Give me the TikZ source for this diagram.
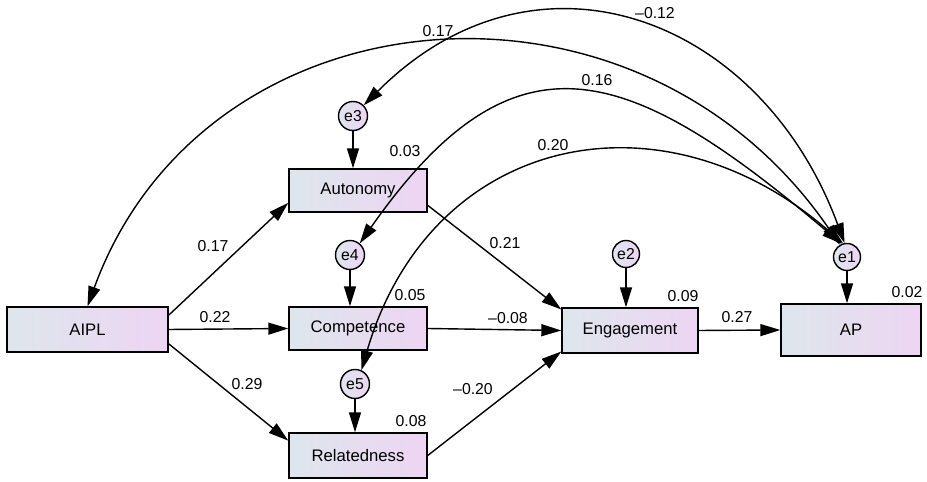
\documentclass[tikz,border=0pt]{standalone}
\usepackage{fontspec}
\setmainfont{Liberation Sans}
\usetikzlibrary{arrows.meta}
\definecolor{fillL}{RGB}{222,230,236}
\definecolor{fillR}{RGB}{237,213,243}
\begin{document}
\begin{tikzpicture}[x=0.02cm, y=-0.02cm,
    var/.style={draw, line width=0.8pt, left color=fillL, right color=fillR, inner sep=0pt,
        font=\fontsize{9.5}{11}\selectfont},
    err/.style={circle, draw, line width=0.8pt, left color=fillL, right color=fillR, inner sep=0pt,
        minimum size=0.58cm, font=\fontsize{9}{10}\selectfont},
    num/.style={font=\fontsize{9}{10}\selectfont, inner sep=0pt},
    path/.style={line width=0.8pt, -{Triangle[length=4mm,width=2.4mm]}},
    cov/.style={line width=0.8pt, arrows={Triangle[length=4mm,width=2.4mm]-Triangle[length=4mm,width=2.4mm]}}]
            \useasboundingbox (0,0) rectangle (927,482);
            \node[var, minimum width=3.22cm, minimum height=0.9cm] (AIPL) at (87.5,329.5) {AIPL};
            \node[var, minimum width=2.76cm, minimum height=0.86cm] (Aut) at (358,190.5) {Autonomy};
            \node[var, minimum width=2.76cm, minimum height=0.86cm] (Com) at (358,328.5) {Competence};
            \node[var, minimum width=2.76cm, minimum height=0.9cm] (Rel) at (358,455.5) {Relatedness};
            \node[var, minimum width=2.72cm, minimum height=0.9cm] (Eng) at (630,330.5) {Engagement};
            \node[var, minimum width=2.8cm, minimum height=1.04cm] (AP) at (851,330) {AP};
            \node[err] (e3) at (353,116) {e3};
            \node[err] (e4) at (350,255) {e4};
            \node[err] (e5) at (355,384) {e5};
            \node[err, minimum size=0.54cm] (e2) at (626,254) {e2};
            \node[err, minimum size=0.54cm] (e1) at (847,257) {e1};
            \draw[path] (AIPL.10) -- (Aut.190);
            \draw[path] (AIPL.east) -- (Com.west);
            \draw[path] (AIPL.-10) -- (Rel.168);
            \draw[path] (Aut.-12) -- (Eng.163);
            \draw[path] (Com.east) -- (Eng.west);
            \draw[path] (Rel.east) -- (Eng.197);
            \draw[path] (Eng.east) -- (AP.west);
            \draw[path] (e3.south) -- (e3.south |- Aut.north);
            \draw[path] (e4.south) -- (e4.south |- Com.north);
            \draw[path] (e5.south) -- (e5.south |- Rel.north);
            \draw[path] (e2.south) -- (e2.south |- Eng.north);
            \draw[path] (e1.south) -- (e1.south |- AP.north);
            \draw[cov] (AIPL.north) .. controls (204,-13) and (636,-52) .. (e1.120);
            \draw[cov] (e3.45) .. controls (537,-68) and (761,17) .. (e1.100);
            \draw[cov] (e4.50) .. controls (515,22) and (628,63) .. (e1.112);
            \draw[cov] (e5.65) .. controls (430,135) and (660,85) .. (e1.106);
            \node[num] (c1) at (438,31) {0.17};
            \node[num] (c2) at (655,13) {--0.12};
            \node[num] (c3) at (597,80) {0.16};
            \node[num] (c4) at (553,145) {0.20};
            \node[num] (p1) at (213,246) {0.17};
            \node[num] (p2) at (215,317) {0.22};
            \node[num] (p3) at (247,384) {0.29};
            \node[num] (p4) at (505,243) {0.21};
            \node[num] (p5) at (508,318) {--0.08};
            \node[num] (p6) at (473,389) {--0.20};
            \node[num] (p7) at (737,317) {0.27};
            \node[num] (r1) at (405,151) {0.03};
            \node[num] (r2) at (410,295) {0.05};
            \node[num] (r3) at (411,421) {0.08};
            \node[num] (r4) at (683,296) {0.09};
            \node[num] (r5) at (907,292) {0.02};
        \end{tikzpicture}
\end{document}
